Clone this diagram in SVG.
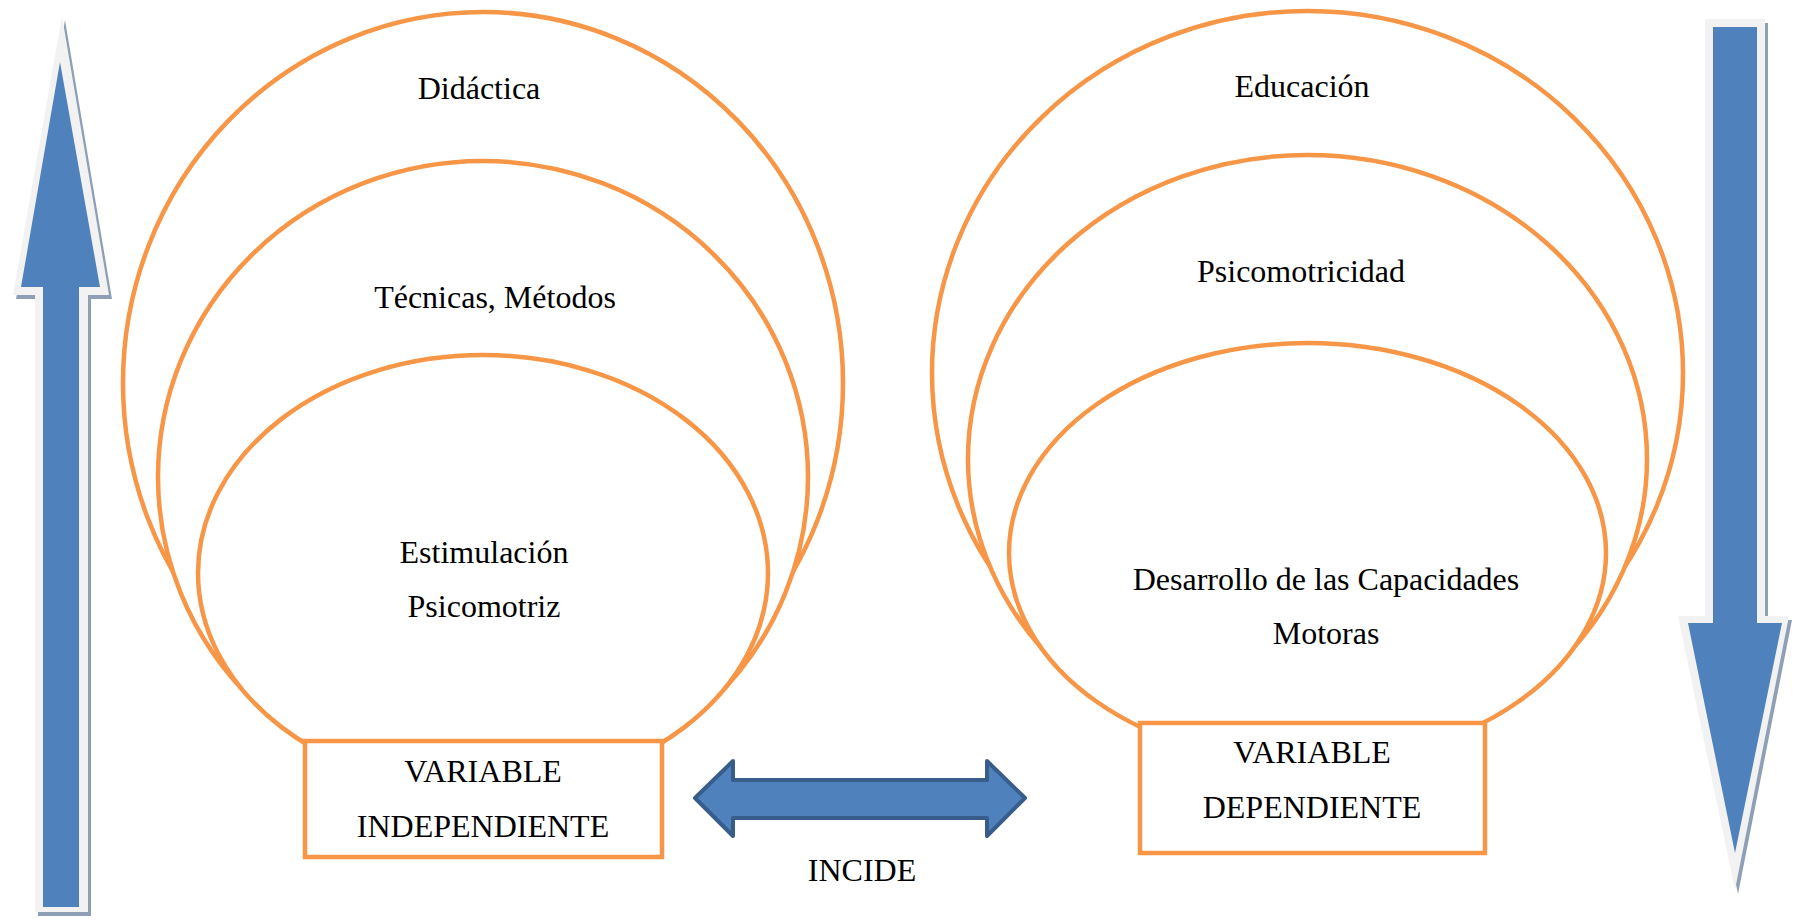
<svg xmlns="http://www.w3.org/2000/svg" width="1800" height="920" viewBox="0 0 1800 920">
  <style>
    .ring { fill: #FFFFFF; stroke: #F79646; stroke-width: 4.5; }
    .box { fill: #FFFFFF; stroke: #F79646; stroke-width: 4.5; }
    .lbl { font-family: "Liberation Serif", "Times New Roman", serif; font-size: 32px; fill: #000000; text-anchor: middle; }
    .arrBlue { fill: #4F81BD; }
    .arrWhite { fill: #F2F2F2; }
    .arrShadow { fill: #8FA0B6; }
  </style>
  <rect width="1800" height="920" fill="#FFFFFF"/>

  <g id="arrow-up">
    <polygon class="arrShadow" points="65,20 112,299 91,299 91,916 38,916 38,299 16,299"/>
    <polygon class="arrWhite" points="62,16 109,295 88,295 88,912 35,912 35,295 13,295"/>
    <polygon class="arrBlue" points="60,62 100,287 79,287 79,907 43,907 43,287 21,287"/>
  </g>

  <g id="arrow-down">
    <polygon class="arrShadow" points="1708,23 1768,23 1768,620 1792,620 1738,894 1681,620 1708,620"/>
    <polygon class="arrWhite" points="1705,19 1765,19 1765,616 1789,616 1735,890 1678,616 1705,616"/>
    <polygon class="arrBlue" points="1713,27 1757,27 1757,623 1782,623 1735,853 1688,623 1713,623"/>
  </g>

  <g id="independiente-group">
    <ellipse id="didactica" class="ring" cx="483" cy="383" rx="360" ry="371"/>
    <ellipse id="tecnicas" class="ring" cx="483" cy="477" rx="325" ry="316"/>
    <ellipse id="estimulacion" class="ring" cx="483" cy="573" rx="285" ry="218"/>
    <text class="lbl" x="479" y="99">Didáctica</text>
    <text class="lbl" x="495" y="308">Técnicas, Métodos</text>
    <text class="lbl" x="484" y="563">Estimulación</text>
    <text class="lbl" x="484" y="617">Psicomotriz</text>
  </g>
  <g id="variable-independiente">
    <rect class="box" x="305" y="741" width="357" height="116"/>
    <text class="lbl" x="483" y="782">VARIABLE</text>
    <text class="lbl" x="483" y="837">INDEPENDIENTE</text>
  </g>

  <g id="dependiente-group">
    <ellipse id="educacion" class="ring" cx="1307.5" cy="373" rx="375.5" ry="362"/>
    <ellipse id="psicomotricidad" class="ring" cx="1307.5" cy="459" rx="339.5" ry="304"/>
    <ellipse id="desarrollo" class="ring" cx="1307.5" cy="553" rx="298.5" ry="210"/>
    <text class="lbl" x="1302" y="97">Educación</text>
    <text class="lbl" x="1301" y="282">Psicomotricidad</text>
    <text class="lbl" x="1326" y="590">Desarrollo de las Capacidades</text>
    <text class="lbl" x="1326" y="644">Motoras</text>
  </g>
  <g id="variable-dependiente">
    <rect class="box" x="1140" y="723" width="345" height="130"/>
    <text class="lbl" x="1312" y="763">VARIABLE</text>
    <text class="lbl" x="1312" y="818">DEPENDIENTE</text>
  </g>

  <g id="connectors">
    <polygon points="695,798 733,761 733,780 987,780 987,761 1025,798 987,836 987,818 733,818 733,836" fill="#4F81BD" stroke="#385D8A" stroke-width="4" stroke-linejoin="round"/>
    <text class="lbl" x="862" y="881">INCIDE</text>
  </g>
</svg>
